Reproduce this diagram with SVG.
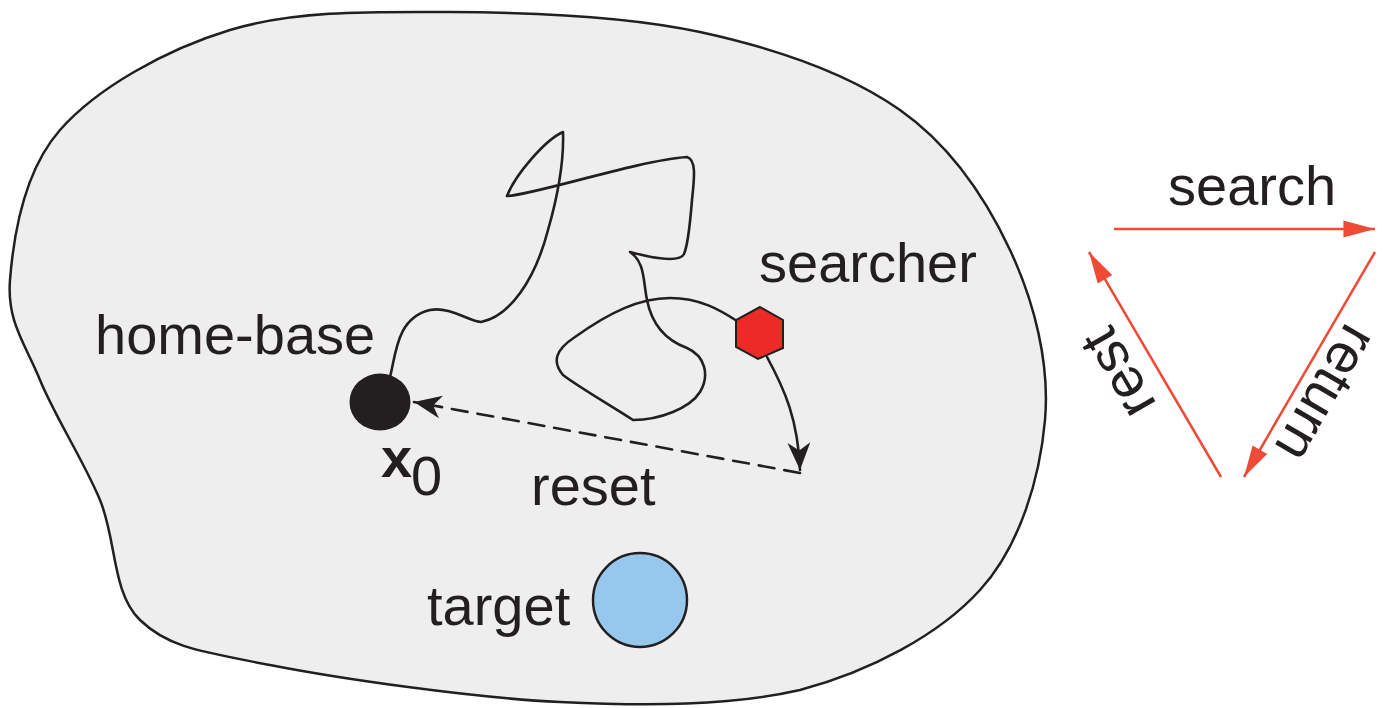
<svg xmlns="http://www.w3.org/2000/svg" width="1388" height="708" viewBox="0 0 1388 708">
<style>
.t{font-family:"Liberation Sans",Arial,sans-serif;font-size:56px;fill:#231f20}
.k{fill:none;stroke:#231f20;stroke-width:2.6;stroke-linejoin:round;stroke-linecap:round}
.r{fill:none;stroke:#ee4a36;stroke-width:2.5}
</style>
<defs>
<marker id="ab" markerUnits="userSpaceOnUse" markerWidth="40" markerHeight="40" viewBox="-30 -15 35 30" refX="0" refY="0" orient="auto">
<path d="M0,0 L-24,-10 L-17,0 L-24,10 Z" fill="#231f20"/>
</marker>
<marker id="ar" markerUnits="userSpaceOnUse" markerWidth="40" markerHeight="40" viewBox="-34 -15 38 30" refX="0" refY="0" orient="auto">
<path d="M0,0 L-30,-8 L-30,8 Z" fill="#ee4a36"/>
</marker>
</defs>
<g id="region">
<path d="M10,280 C13.3,238.3 23.3,171.7 60,130 C96.7,88.3 165,49.7 230,30 C295,10.3 371.7,11.7 450,12 C528.3,12.3 625,15.7 700,32 C775,48.3 848.3,73.7 900,110 C951.7,146.3 985.8,198.3 1010,250 C1034.2,301.7 1050,363.3 1045,420 C1040,476.7 1020.8,545 980,590 C939.2,635 870,671.3 800,690 C730,706 648.3,706.2 560,702 C471.7,697.8 340,678.7 270,665 C200,651.3 168.3,647.5 140,620 C111.7,592.5 116.7,540 100,500 C83.3,460 55,416.7 40,380 C25,343.3 6.7,321.7 10,280 Z" fill="#eeeeee" stroke="#231f20" stroke-width="2.5"/>
</g>
<g id="connectors">
<path class="k" d="M390,377 C396,355 396,318 430,310 C450,306 470,322 481,322 C510,316 535,280 548,230 C558,195 564,160 563,132 C545,140 515,175 507,196 C530,196 640,160 687,157 C697,160 694,180 692,200 C690,225 688,245 684,254 C680,262 660,260 630,252 C645,262 643,280 647,300 C652,325 665,340 687,348 C705,356 710,375 700,392 C690,408 660,420 633,420 C615,408 580,388 563,375 C552,362 555,350 575,337 C610,312 640,298 670,298 C700,298 720,310 737,321"/>
<path class="k" d="M767,357 C785,390 798,420 800,470" marker-end="url(#ab)"/>
<path class="k" d="M800,473 L414,402" stroke-dasharray="16,10" stroke-linecap="butt" marker-end="url(#ab)"/>
<line class="r" x1="1114" y1="229" x2="1375" y2="229" marker-end="url(#ar)"/>
<line class="r" x1="1375" y1="252" x2="1244" y2="477" marker-end="url(#ar)"/>
<line class="r" x1="1221" y1="477" x2="1089" y2="252" marker-end="url(#ar)"/>
</g>
<g id="home-base">
<ellipse cx="380" cy="402" rx="30.5" ry="28.5" fill="#231f20"/>
<text class="t" x="95" y="354">home-base</text>
<text class="t" x="381" y="477" font-weight="bold" font-size="52">x</text>
<text class="t" x="411" y="495">0</text>
</g>
<g id="searcher">
<polygon points="760,307 783,320 783,348 758,359 736,347 736,320" fill="#ec2a26" stroke="#231f20" stroke-width="2"/>
<text class="t" x="759" y="282">searcher</text>
</g>
<g id="reset">
<text class="t" x="531" y="505">reset</text>
</g>
<g id="target">
<circle cx="640" cy="600" r="47" fill="#95c8ec" stroke="#231f20" stroke-width="2.5"/>
<text class="t" x="427" y="625">target</text>
</g>
<g id="cycle">
<text class="t" x="1168" y="205">search</text>
<text class="t" text-anchor="middle" font-size="54" transform="translate(1310,384) rotate(120)">return</text>
<text class="t" text-anchor="middle" transform="translate(1134,364) rotate(-120)">rest</text>
</g>
</svg>
